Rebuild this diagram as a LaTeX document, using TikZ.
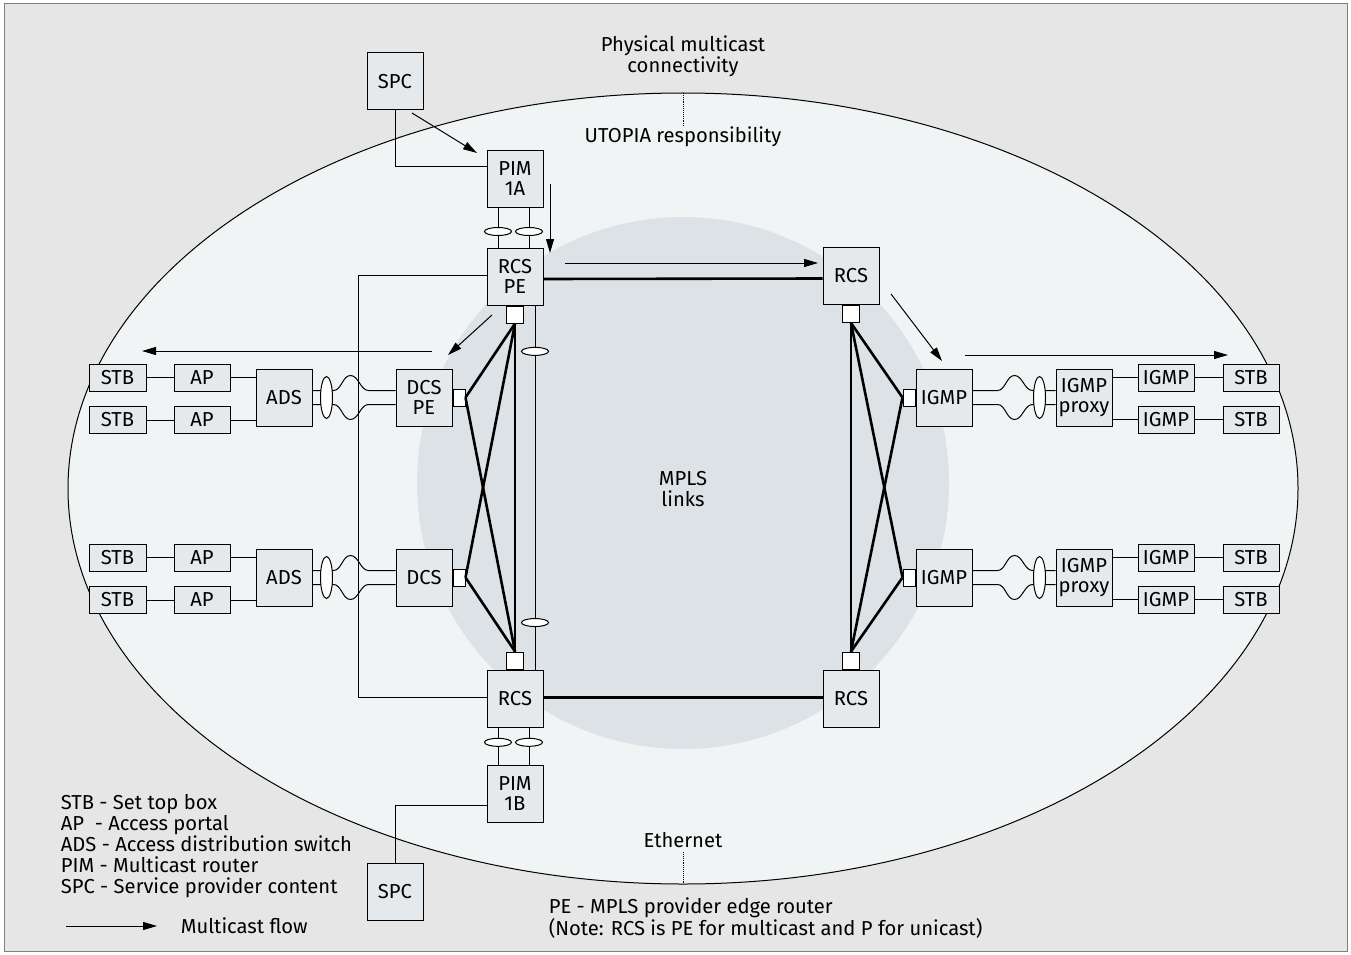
\documentclass[tikz,border=0pt]{standalone}
\usepackage{fontspec}
\setmainfont{Fira Sans}
\usepackage{xcolor}
\usepackage{tikz}
\usetikzlibrary{arrows.meta,shapes.geometric}
\definecolor{pagegray}{HTML}{E6E6E6}
\definecolor{ovalfill}{HTML}{F1F4F5}
\definecolor{mplsfill}{HTML}{DCE2E5}
\definecolor{boxfill}{HTML}{E5E9EB}
\definecolor{framegray}{HTML}{808080}

\begin{document}
\begin{tikzpicture}[x=1pt,y=-1pt,line width=1pt,
		every node/.style={font=\fontsize{20.2}{20.8}\selectfont},
		box/.style={draw,fill=boxfill,minimum width=56pt,minimum height=57pt,inner sep=0pt,align=center},
		slim/.style={draw,fill=boxfill,minimum width=56pt,minimum height=27pt,inner sep=0pt},
		port/.style={draw,fill=white,minimum width=17pt,minimum height=17pt,inner sep=0pt},
		sideport/.style={draw,fill=white,minimum width=12pt,minimum height=17pt,inner sep=0pt},
		lagh/.style={ellipse,draw,fill=white,minimum width=27pt,minimum height=8pt,inner sep=0pt},
		lagv/.style={ellipse,draw,fill=white,minimum width=12pt,minimum height=42pt,inner sep=0pt},
		trunk/.style={line width=2.6pt},
		flow/.style={line width=1pt,-{Triangle[length=14pt,width=8pt]}}]
	\useasboundingbox (0,0) rectangle (1351,955);
	\draw [framegray,fill=pagegray] (4,4) rectangle (1347,951);
	\draw [fill=ovalfill] (683,488.5) ellipse (615 and 395.5);
	\fill [mplsfill] (683,483) circle (266);

	\node (phys) at (683,56) [align=center] {Physical multicast\\connectivity};
	\node (utopia) at (683,137) {UTOPIA responsibility};
	\draw [densely dotted,line width=0.9pt] (683,93) -- (683,126);
	\node (mpls) at (683,489) [align=center] {MPLS\\links};
	\node (eth) at (683,840) {Ethernet};
	\draw [densely dotted,line width=0.9pt] (683,852) -- (683,884);

	\node [box] (spcT) at (395,81.5) {SPC};
	\node [box] (pimA) at (515,178.5) {PIM\\1A};
	\node [box] (rcsPE) at (515,276.5) {RCS\\PE};
	\node [port,anchor=north] (pPE) at (rcsPE.south) {};
	\node [box] (rcsNE) at (851,276) {RCS};
	\node [port,anchor=north] (pNE) at (rcsNE.south) {};
	\node [box] (rcsSW) at (515,698.5) {RCS};
	\node [port,anchor=south] (pSW) at (rcsSW.north) {};
	\node [box] (rcsSE) at (851,698.5) {RCS};
	\node [port,anchor=south] (pSE) at (rcsSE.north) {};
	\node [box] (pimB) at (515,793.5) {PIM\\1B};
	\node [box] (spcB) at (395,891.5) {SPC};

	\node [box] (dcsA) at (424,397.5) {DCS\\PE};
	\node [sideport,anchor=west] (pDcsA) at (dcsA.east) {};
	\node [box] (dcsB) at (424,577.5) {DCS};
	\node [sideport,anchor=west] (pDcsB) at (dcsB.east) {};
	\node [box] (adsA) at (284,397.5) {ADS};
	\node [box] (adsB) at (284,577.5) {ADS};
	\node [slim] (apA1) at (202,377.5) {AP};
	\node [slim] (apA2) at (202,420) {AP};
	\node [slim] (apB1) at (202,557.5) {AP};
	\node [slim] (apB2) at (202,600) {AP};
	\node [slim,minimum width=57pt] (stbA1) at (117.5,377.5) {STB};
	\node [slim,minimum width=57pt] (stbA2) at (117.5,420) {STB};
	\node [slim,minimum width=57pt] (stbB1) at (117.5,557.5) {STB};
	\node [slim,minimum width=57pt] (stbB2) at (117.5,600) {STB};

	\node [box] (igA) at (944,397.5) {IGMP};
	\node [sideport,anchor=east] (pIgA) at (igA.west) {};
	\node [box] (igB) at (944,577.5) {IGMP};
	\node [sideport,anchor=east] (pIgB) at (igB.west) {};
	\node [box] (pxA) at (1084,397.5) {IGMP\\proxy};
	\node [box] (pxB) at (1084,577.5) {IGMP\\proxy};
	\node [slim] (imA1) at (1166,377.5) {IGMP};
	\node [slim] (imA2) at (1166,419.5) {IGMP};
	\node [slim] (imB1) at (1166,557.5) {IGMP};
	\node [slim] (imB2) at (1166,599.5) {IGMP};
	\node [slim] (stR1) at (1251,377.5) {STB};
	\node [slim] (stR2) at (1251,419.5) {STB};
	\node [slim] (stR3) at (1251,557.5) {STB};
	\node [slim] (stR4) at (1251,599.5) {STB};

	\draw (spcT.south) |- ([yshift=12pt]pimA.west);
	\draw ([yshift=-12pt]pimB.west) -| (spcB.north);
	\draw ([xshift=-17pt]pimA.south) -- node [lagh,pos=0.6] {} ([xshift=-17pt]rcsPE.north);
	\draw ([xshift=14pt]pimA.south) -- node [lagh,pos=0.6] {} ([xshift=14pt]rcsPE.north);
	\draw ([xshift=-17pt]rcsSW.south) -- node [lagh,pos=0.4] {} ([xshift=-17pt]pimB.north);
	\draw ([xshift=14pt]rcsSW.south) -- node [lagh,pos=0.4] {} ([xshift=14pt]pimB.north);
	\draw ([yshift=1.5pt]rcsPE.west) -- ++(-128,0) |- ([yshift=1.5pt]rcsSW.west);
	\draw ([xshift=20pt]rcsPE.south) -- node [lagh,pos=0.126] {} node [lagh,pos=0.871] {} ([xshift=20pt]rcsSW.north);

	\draw [trunk] ([yshift=-2.5pt]rcsPE.east) -- ([yshift=-2.5pt]rcsNE.west);
	\draw [trunk] ([yshift=1pt]rcsSW.east) -- ([yshift=1pt]rcsSE.west);
	\draw [trunk] (pPE.south) -- (pSW.north);
	\draw [trunk] (pPE.south) -- (pDcsA.east);
	\draw [trunk] (pPE.south) -- (pDcsB.east);
	\draw [trunk] (pSW.north) -- (pDcsA.east);
	\draw [trunk] (pSW.north) -- (pDcsB.east);
	\draw [trunk] (pNE.south) -- (pSE.north);
	\draw [trunk] (pNE.south) -- (pIgA.west);
	\draw [trunk] (pNE.south) -- (pIgB.west);
	\draw [trunk] (pSE.north) -- (pIgA.west);
	\draw [trunk] (pSE.north) -- (pIgB.west);

	\draw (stbA1) -- (apA1);
	\draw (stbA2) -- (apA2);
	\draw (stbB1) -- (apB1);
	\draw (stbB2) -- (apB2);
	\draw (apA1) -- (apA1 -| adsA.west);
	\draw (apA2) -- (apA2 -| adsA.west);
	\draw (apB1) -- (apB1 -| adsB.west);
	\draw (apB2) -- (apB2 -| adsB.west);

	\draw ([yshift=7pt]adsA.east) -- ++(21,0) .. controls +(8,0) and +(-8,0) .. ++(17,-15) .. controls +(8,0) and +(-8,0) .. ++(18,15) -- ([yshift=7pt]dcsA.west);
	\draw ([yshift=-7pt]adsA.east) -- ++(21,0) .. controls +(8,0) and +(-8,0) .. ++(17,15) .. controls +(8,0) and +(-8,0) .. ++(18,-15) -- ([yshift=-7pt]dcsA.west);
	\node [lagv] (lagA) at ([xshift=14pt]adsA.east) {};
	\draw ([yshift=7pt]adsB.east) -- ++(21,0) .. controls +(8,0) and +(-8,0) .. ++(17,-15) .. controls +(8,0) and +(-8,0) .. ++(18,15) -- ([yshift=7pt]dcsB.west);
	\draw ([yshift=-7pt]adsB.east) -- ++(21,0) .. controls +(8,0) and +(-8,0) .. ++(17,15) .. controls +(8,0) and +(-8,0) .. ++(18,-15) -- ([yshift=-7pt]dcsB.west);
	\node [lagv] (lagB) at ([xshift=14pt]adsB.east) {};

	\draw ([yshift=7pt]igA.east) -- ++(25,0) .. controls +(8,0) and +(-8,0) .. ++(17,-15) .. controls +(8,0) and +(-8,0) .. ++(18,15) -- ([yshift=7pt]pxA.west);
	\draw ([yshift=-7pt]igA.east) -- ++(25,0) .. controls +(8,0) and +(-8,0) .. ++(17,15) .. controls +(8,0) and +(-8,0) .. ++(18,-15) -- ([yshift=-7pt]pxA.west);
	\node [lagv] (lagC) at ([xshift=-16pt]pxA.west) {};
	\draw ([yshift=7pt]igB.east) -- ++(25,0) .. controls +(8,0) and +(-8,0) .. ++(17,-15) .. controls +(8,0) and +(-8,0) .. ++(18,15) -- ([yshift=7pt]pxB.west);
	\draw ([yshift=-7pt]igB.east) -- ++(25,0) .. controls +(8,0) and +(-8,0) .. ++(17,15) .. controls +(8,0) and +(-8,0) .. ++(18,-15) -- ([yshift=-7pt]pxB.west);
	\node [lagv] (lagD) at ([xshift=-16pt]pxB.west) {};

	\draw (imA1.west -| pxA.east) -- (imA1.west);
	\draw (imA2.west -| pxA.east) -- (imA2.west);
	\draw (imB1.west -| pxB.east) -- (imB1.west);
	\draw (imB2.west -| pxB.east) -- (imB2.west);
	\draw (imA1) -- (stR1);
	\draw (imA2) -- (stR2);
	\draw (imB1) -- (stR3);
	\draw (imB2) -- (stR4);

	\coordinate (f1s) at (412,113);
	\coordinate (f1e) at (477,153);
	\coordinate (f2s) at (550,184);
	\coordinate (f2e) at (550,253);
	\coordinate (f3s) at (565,263);
	\coordinate (f3e) at (818,263);
	\coordinate (f4s) at (891,294);
	\coordinate (f4e) at (942,361);
	\coordinate (f5s) at (965,355);
	\coordinate (f5e) at (1228,355);
	\coordinate (f6s) at (432,351);
	\coordinate (f6e) at (142,351);
	\coordinate (f7s) at (492,315);
	\coordinate (f7e) at (448,355);
	\draw [flow] (f1s) -- (f1e);
	\draw [flow] (f2s) -- (f2e);
	\draw [flow] (f3s) -- (f3e);
	\draw [flow] (f4s) -- (f4e);
	\draw [flow] (f5s) -- (f5e);
	\draw [flow] (f6s) -- (f6e);
	\draw [flow] (f7s) -- (f7e);

	\node [anchor=west,align=left] (legend) at (57,846) {STB - Set top box\\AP~~- Access portal\\ADS - Access distribution switch\\PIM - Multicast router\\SPC - Service provider content};
	\coordinate (keys) at (66,926);
	\coordinate (keye) at (157,926);
	\draw [flow] (keys) -- (keye);
	\node [anchor=west] (keytxt) at (177,926) {Multicast flow};
	\node [anchor=west,align=left] (penote) at (545,918) {PE - MPLS provider edge router\\(Note: RCS is PE for multicast and P for unicast)};
\end{tikzpicture}
\end{document}
